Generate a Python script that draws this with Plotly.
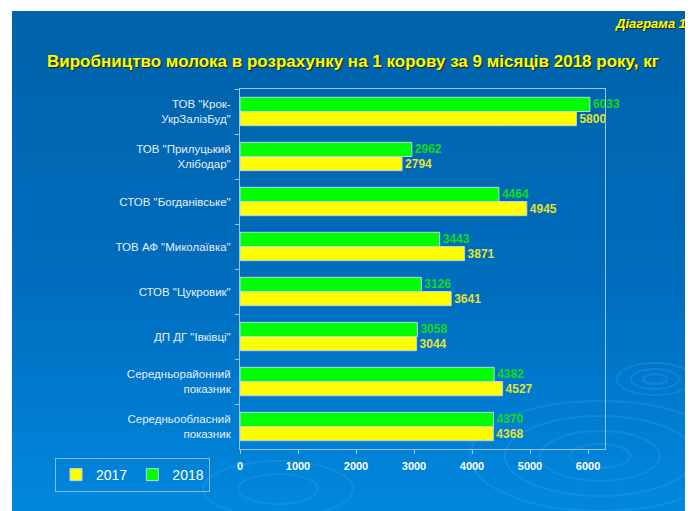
import base64
import plotly.graph_objects as go

categories = [
    'ТОВ "Крок-<br>УкрЗалізБуд"',
    'ТОВ "Прилуцький<br>Хлібодар"',
    'СТОВ "Богданівське"',
    'ТОВ АФ "Миколаївка"',
    'СТОВ "Цукровик"',
    'ДП ДГ "Івківці"',
    'Середньорайонний<br>показник',
    'Середньообласний<br>показник',
]
values_2017 = [5800, 2794, 4945, 3871, 3641, 3044, 4527, 4368]
values_2018 = [6033, 2962, 4464, 3443, 3126, 3058, 4382, 4370]
x_ticks = [0, 1000, 2000, 3000, 4000, 5000, 6000]

FONT = "Arial, Liberation Sans, sans-serif"

# background panel: gradient with faint ripples (svg data uri)
svg = """<svg xmlns='http://www.w3.org/2000/svg' width='678' height='500' viewBox='0 0 678 500'>
<defs><linearGradient id='g' x1='0' y1='0' x2='0' y2='1'>
<stop offset='0' stop-color='#0062AA'/><stop offset='0.55' stop-color='#006DBE'/>
<stop offset='1' stop-color='#0088DE'/></linearGradient></defs>
<rect width='678' height='500' fill='url(#g)'/>
<g fill='none' stroke='#3AA6F0' stroke-opacity='0.28' stroke-width='2'>
<ellipse cx='588' cy='445' rx='30' ry='12'/>
<ellipse cx='588' cy='445' rx='60' ry='25'/>
<ellipse cx='588' cy='445' rx='95' ry='40'/>
<ellipse cx='588' cy='445' rx='130' ry='55'/>
<ellipse cx='266' cy='478' rx='40' ry='15'/>
<ellipse cx='266' cy='478' rx='75' ry='28'/>
<ellipse cx='643' cy='368' rx='12' ry='5'/>
<ellipse cx='643' cy='368' rx='24' ry='10'/>
<ellipse cx='643' cy='368' rx='38' ry='16'/>
</g></svg>"""
bg_src = "data:image/svg+xml;base64," + base64.b64encode(svg.encode()).decode()

# page has an 8px body margin; coordinates below are figure pixels
OFF = 8
W, H = 693 - OFF, 511 - OFF
L, R, T, B = 240 - OFF, 605 - OFF, 89 - OFF, 449 - OFF
pw, ph = R - L, B - T

def fx(px):  # reference pixel x -> paper
    return (px - OFF - L) / pw

def fy(py):  # reference pixel y -> paper
    return (B - (py - OFF)) / ph

fig = go.Figure()
fig.add_trace(go.Bar(
    name="2018", y=categories, x=values_2018, orientation="h",
    marker=dict(color="#00FF00", line=dict(color="#B8D4E8", width=1)),
    text=values_2018, textposition="outside", cliponaxis=False,
    textfont=dict(family=FONT, size=12, color="#14DC14", weight="bold"),
    legendrank=2,
))
fig.add_trace(go.Bar(
    name="2017", y=categories, x=values_2017, orientation="h",
    marker=dict(color="#FFFF00", line=dict(color="#B8D4E8", width=1)),
    text=values_2017, textposition="outside", cliponaxis=False,
    textfont=dict(family=FONT, size=12, color="#E2E236", weight="bold"),
    legendrank=1,
))

fig.update_layout(
    width=W, height=H,
    margin=dict(l=L, r=W - R, t=T, b=H - B, pad=0, autoexpand=False),
    paper_bgcolor="white", plot_bgcolor="rgba(0,0,0,0)",
    barmode="group", bargap=0.37, bargroupgap=0,
    showlegend=True,
    legend=dict(
        orientation="h", x=fx(55), y=fy(458),
        xanchor="left", yanchor="top",
        bgcolor="rgba(0,0,0,0)", bordercolor="#8CB8DC", borderwidth=1,
        font=dict(family=FONT, size=14, color="white"),
        itemwidth=30,
    ),
    images=[dict(
        source=bg_src, xref="paper", yref="paper",
        x=fx(12), y=fy(11),
        sizex=(690 - 12) / pw, sizey=(511 - 11) / ph,
        xanchor="left", yanchor="top", sizing="stretch", layer="below",
    )],
    annotations=[
        dict(text="Виробництво молока в розрахунку на 1 корову за 9 місяців 2018 року, кг",
             xref="paper", yref="paper", x=fx(353), y=fy(61),
             xanchor="center", yanchor="middle", showarrow=False,
             font=dict(family=FONT, size=17, color="#FFFF00", weight="bold",
                       shadow="1px 1px 1px #202020")),
        dict(text="<i>Діаграма 1</i>",
             xref="paper", yref="paper", x=fx(688), y=fy(23),
             xanchor="right", yanchor="middle", showarrow=False,
             font=dict(family=FONT, size=13, color="#FFFF00", weight="bold",
                       shadow="1px 1px 1px #202020")),
    ],
)

fig.update_xaxes(
    range=[0, 6293], tickvals=x_ticks, ticktext=[str(v) for v in x_ticks],
    showgrid=False, zeroline=False,
    showline=True, linecolor="#9CC4E4", linewidth=1, mirror=True,
    ticks="outside", ticklen=4, tickcolor="#9CC4E4", ticklabelstandoff=3,
    tickfont=dict(family=FONT, size=11, color="white", weight="bold"),
)
fig.update_yaxes(
    autorange="reversed", type="category",
    showgrid=False, zeroline=False,
    showline=True, linecolor="#9CC4E4", linewidth=1, mirror=True,
    ticks="outside", ticklen=4, tickcolor="#9CC4E4", tickson="boundaries",
    ticklabelstandoff=6,
    tickfont=dict(family=FONT, size=11.5, color="#E8EEF6"),
)

fig.write_html("out.html")
